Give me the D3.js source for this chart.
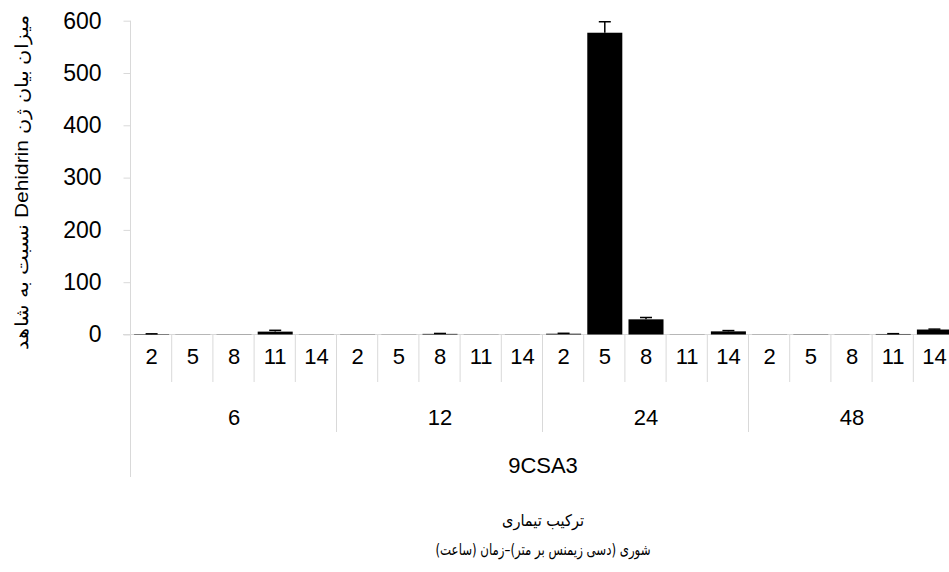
<!DOCTYPE html>
<html>
<head>
<meta charset="utf-8">
<script src="https://cdn.jsdelivr.net/npm/d3@7"></script>
<style>
  html, body { margin: 0; padding: 0; background: #fff; }
  svg { display: block; }
</style>
</head>
<body>
<svg id="chart" width="949" height="572"></svg>
<script>
// Time groups (hours), salinity levels (dS/m) inside each group, and the cultivar label
const timeGroups = ["6", "12", "24", "48"];
const salinityLevels = ["2", "5", "8", "11", "14"];
const cultivar = "9CSA3";

// Relative Dehidrin expression (mean) and its standard error, group by group
const expression = [
  0.8, 0.3, 0.4, 5.5, 0.3,
  0.4, 0.3, 1.2, 0.3, 0.3,
  1.5, 577, 29, 0.3, 6,
  0.3, 0.5, 0.3, 1.0, 9.5
];
const stdError = [
  0.5, 0, 0, 2.5, 0,
  0, 0, 0.8, 0, 0,
  0.8, 21, 3.5, 0, 1.5,
  0, 0, 0, 0.6, 0.8
];

const yTicks = [0, 100, 200, 300, 400, 500, 600];

const yTitle = "میزان بیان ژن Dehidrin نسبت به شاهد";
const xTitle1 = "ترکیب تیماری";
const xTitle2 = "شوری (دسی زیمنس بر متر)–زمان (ساعت)";

const rows = [];
timeGroups.forEach((g, gi) => {
  salinityLevels.forEach((s, si) => {
    const i = gi * salinityLevels.length + si;
    rows.push({ key: g + "-" + s, group: g, level: s, value: expression[i], err: stdError[i] });
  });
});

const svg = d3.select("#chart");
const gridColor = "#d9d9d9";
const latin = "'Liberation Sans', Arial, sans-serif";
const persian = "'DejaVu Sans', 'Noto Sans', sans-serif";

const left = 131, step = 41.2;
const right = left + step * rows.length;
const y0 = 334.5, yTop = 20.7;
const row1 = 382, row2 = 432, row3 = 477;

const x = d3.scaleBand()
  .domain(rows.map(d => d.key))
  .range([left, right])
  .paddingInner(0.15)
  .paddingOuter(0.075);

const y = d3.scaleLinear().domain([0, 600]).range([y0, yTop]);

// Y axis
const yAxis = d3.axisLeft(y).tickValues(yTicks).tickSize(7).tickPadding(22).tickFormat(d3.format("d"));
const ya = svg.append("g").attr("transform", `translate(${left - 0.5},0)`).call(yAxis);
ya.select(".domain").remove();
ya.selectAll(".tick line").attr("stroke", gridColor);
ya.selectAll(".tick text").attr("font-family", latin).attr("font-size", 23).attr("fill", "#000");
svg.append("line")
  .attr("x1", left - 0.5).attr("x2", left - 0.5)
  .attr("y1", yTop).attr("y2", row3)
  .attr("stroke", gridColor);

// Baseline
svg.append("line")
  .attr("x1", left - 8).attr("x2", 949)
  .attr("y1", y0).attr("y2", y0)
  .attr("stroke", gridColor);

// Bars
svg.append("g").selectAll("rect").data(rows).join("rect")
  .attr("x", d => x(d.key))
  .attr("width", x.bandwidth())
  .attr("y", d => y(d.value))
  .attr("height", d => y0 - y(d.value))
  .attr("fill", "#000");

// Error bars (upper half)
const eb = svg.append("g").selectAll("g").data(rows.filter(d => d.err > 0)).join("g");
eb.append("line")
  .attr("x1", d => x(d.key) + x.bandwidth() / 2)
  .attr("x2", d => x(d.key) + x.bandwidth() / 2)
  .attr("y1", d => y(d.value))
  .attr("y2", d => y(d.value + d.err))
  .attr("stroke", "#000").attr("stroke-width", 1.5);
eb.append("line")
  .attr("x1", d => x(d.key) + x.bandwidth() / 2 - 6)
  .attr("x2", d => x(d.key) + x.bandwidth() / 2 + 6)
  .attr("y1", d => y(d.value + d.err))
  .attr("y2", d => y(d.value + d.err))
  .attr("stroke", "#000").attr("stroke-width", 1.5);

// Multi-level category axis
const catEdges = d3.range(rows.length + 1).map(i => left + i * step);
svg.append("g").selectAll("line").data(catEdges).join("line")
  .attr("x1", d => d - 0.5).attr("x2", d => d - 0.5)
  .attr("y1", y0).attr("y2", row1)
  .attr("stroke", gridColor);

svg.append("g").selectAll("text").data(rows).join("text")
  .attr("x", d => x(d.key) + x.bandwidth() / 2)
  .attr("y", 364)
  .attr("text-anchor", "middle")
  .attr("font-family", latin).attr("font-size", 22)
  .text(d => d.level);

const groupWidth = step * salinityLevels.length;
const groupEdges = d3.range(1, timeGroups.length + 1).map(i => left + i * groupWidth);
svg.append("g").selectAll("line").data(groupEdges).join("line")
  .attr("x1", d => d - 0.5).attr("x2", d => d - 0.5)
  .attr("y1", row1).attr("y2", row2)
  .attr("stroke", gridColor);

svg.append("g").selectAll("text").data(timeGroups).join("text")
  .attr("x", (d, i) => left + (i + 0.5) * groupWidth)
  .attr("y", 425)
  .attr("text-anchor", "middle")
  .attr("font-family", latin).attr("font-size", 22)
  .text(d => d);

const axisCenter = (left + right) / 2;
svg.append("text")
  .attr("x", axisCenter)
  .attr("y", 473)
  .attr("text-anchor", "middle")
  .attr("font-family", latin).attr("font-size", 22)
  .text(cultivar);

// Axis titles
svg.append("text")
  .attr("transform", "translate(28,182) rotate(-90)")
  .attr("text-anchor", "middle")
  .attr("direction", "rtl")
  .attr("font-family", latin).attr("font-size", 18)
  .attr("textLength", 335).attr("lengthAdjust", "spacingAndGlyphs")
  .text(yTitle);

svg.append("text")
  .attr("x", axisCenter).attr("y", 526)
  .attr("text-anchor", "middle")
  .attr("direction", "rtl")
  .attr("font-family", persian).attr("font-size", 16)
  .attr("textLength", 82).attr("lengthAdjust", "spacingAndGlyphs")
  .text(xTitle1);

svg.append("text")
  .attr("x", axisCenter).attr("y", 555)
  .attr("text-anchor", "middle")
  .attr("direction", "rtl")
  .attr("font-family", persian).attr("font-size", 16)
  .attr("textLength", 215).attr("lengthAdjust", "spacingAndGlyphs")
  .text(xTitle2);
</script>
</body>
</html>
